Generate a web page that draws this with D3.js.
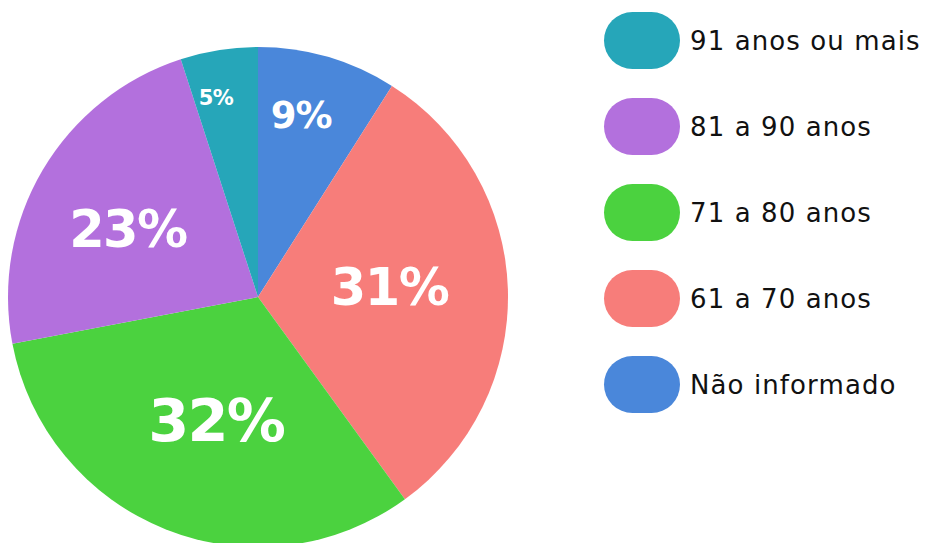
<!DOCTYPE html>
<html>
<head>
<meta charset="utf-8">
<script src="https://cdn.jsdelivr.net/npm/d3@7"></script>
<style>
  html, body { margin: 0; padding: 0; background: #fff; }
  #chart { width: 927px; height: 543px; overflow: hidden; }
  .slice-label { font-family: "DejaVu Sans", sans-serif; font-weight: bold; fill: #fff; }
  .legend-text { font-family: "DejaVu Sans", sans-serif; fill: #111; }
</style>
</head>
<body>
<div id="chart"></div>
<script>
// data, in slice order (clockwise from 12 o'clock)
const categories = ['Não informado', '61 a 70 anos', '71 a 80 anos', '81 a 90 anos', '91 anos ou mais']
const values = [9, 31, 32, 23, 5]
const colors = ['#4a87da', '#f77d7a', '#4bd23f', '#b370dd', '#26a6b9']

const dms = { width: 927, height: 543 }
const pieCenter = { x: 258, y: 297 }
const radius = 250

const svg = d3.select('#chart')
  .append('svg')
  .attr('width', dms.width)
  .attr('height', dms.height)

const dataset = categories.map((c, i) => ({ name: c, value: values[i], color: colors[i] }))

const pie = d3.pie()
  .sort(null)
  .value(d => d.value)

const arcs = pie(dataset)

const arc = d3.arc()
  .innerRadius(0)
  .outerRadius(radius)

const pieG = svg.append('g')
  .attr('transform', `translate(${pieCenter.x},${pieCenter.y})`)

pieG.selectAll('path')
  .data(arcs)
  .join('path')
  .attr('d', arc)
  .attr('fill', d => d.data.color)

// small slices get their label pushed further out, and a smaller font
const labelRadius = d3.scaleLinear().domain([5, 9, 23, 32]).range([204, 187, 147, 130])
const labelSize = d3.scaleLinear().domain([5, 9, 23, 31, 32]).range([21, 37, 51, 51, 59])

pieG.selectAll('text')
  .data(arcs)
  .join('text')
  .attr('class', 'slice-label')
  .attr('text-anchor', 'middle')
  .attr('dy', '0.36em')
  .style('font-size', d => labelSize(d.data.value) + 'px')
  .style('letter-spacing', '-0.03em')
  .attr('transform', d => {
    const a = (d.startAngle + d.endAngle) / 2 - 0.05
    const r = labelRadius(d.data.value)
    return `translate(${Math.sin(a) * r},${-Math.cos(a) * r})`
  })
  .text(d => d.data.value + '%')

// legend, reversed order
const legendData = dataset.slice().reverse()
const legendY = d3.scaleBand()
  .domain(legendData.map(d => d.name))
  .range([12, 12 + 86 * legendData.length])

const legend = svg.append('g')
  .attr('transform', 'translate(604,0)')

const items = legend.selectAll('g')
  .data(legendData)
  .join('g')
  .attr('transform', d => `translate(0,${legendY(d.name)})`)

items.append('rect')
  .attr('width', 76)
  .attr('height', 57)
  .attr('rx', 28.5)
  .attr('ry', 28.5)
  .attr('fill', d => d.color)

items.append('text')
  .attr('class', 'legend-text')
  .attr('x', 86)
  .attr('y', 29)
  .attr('dy', '0.36em')
  .style('font-size', '26px')
  .style('letter-spacing', '1.1px')
  .text(d => d.name)
</script>
</body>
</html>
